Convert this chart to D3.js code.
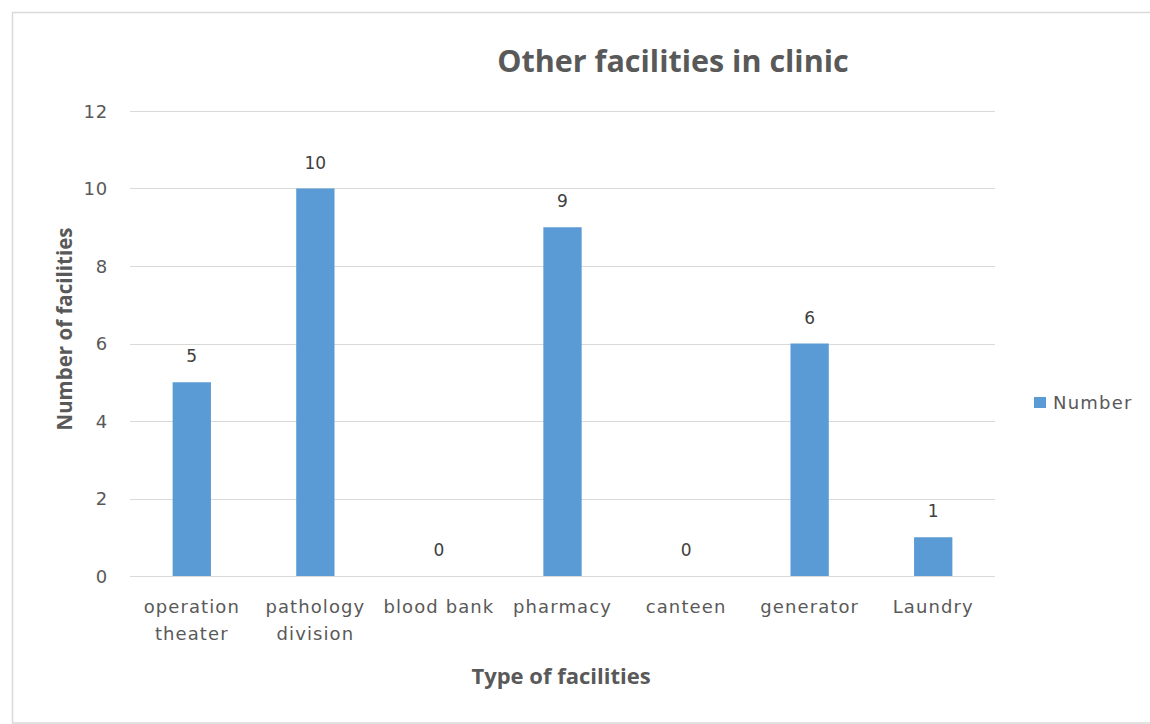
<!DOCTYPE html>
<html>
<head>
<meta charset="utf-8">
<script src="https://cdn.jsdelivr.net/npm/d3@7"></script>
<style>
  html, body { margin: 0; padding: 0; background: #ffffff; }
  svg { display: block; }
</style>
</head>
<body>
<svg id="chart" width="1150" height="724"></svg>
<script>
// Facility types and how many clinics have each
const categories = ["operation theater", "pathology division", "blood bank", "pharmacy", "canteen", "generator", "Laundry"];
const categoryLines = [["operation", "theater"], ["pathology", "division"], ["blood bank"], ["pharmacy"], ["canteen"], ["generator"], ["Laundry"]];
const counts = [5, 10, 0, 9, 0, 6, 1];
const yTicks = [0, 2, 4, 6, 8, 10, 12];
const seriesName = "Number";
const chartTitle = "Other facilities in clinic";
const xTitle = "Type of facilities";
const yTitle = "Number of facilities";

const W = 1150, H = 724;
const plot = { left: 130, right: 995, top: 111, bottom: 576 };
const textColor = "#595959";
const gridColor = "#D9D9D9";
const barColor = "#5B9BD5";
const labelFont = "'DejaVu Sans', Verdana, sans-serif";
const titleFont = "'Open Sans', 'Noto Sans', sans-serif";

const svg = d3.select("#chart");

svg.append("rect").attr("width", W).attr("height", H).attr("fill", "#ffffff");

// chart frame
svg.append("rect")
  .attr("x", 12.5).attr("y", 12.5)
  .attr("width", W).attr("height", 710.5)
  .attr("fill", "none").attr("stroke", gridColor).attr("stroke-width", 1.5);

const x = d3.scaleBand()
  .domain(categories)
  .range([plot.left, plot.right])
  .paddingInner(0.69)
  .paddingOuter(0.345);

const y = d3.scaleLinear()
  .domain([0, 12])
  .range([plot.bottom, plot.top]);

// horizontal gridlines
svg.append("g")
  .selectAll("line")
  .data(yTicks)
  .join("line")
  .attr("x1", plot.left).attr("x2", plot.right)
  .attr("y1", d => Math.round(y(d)) + 0.5).attr("y2", d => Math.round(y(d)) + 0.5)
  .attr("stroke", gridColor).attr("stroke-width", 1.2);

// y axis tick labels
const yAxis = d3.axisLeft(y).tickValues(yTicks).tickSize(0).tickPadding(0);
const yAxisG = svg.append("g")
  .attr("transform", `translate(108,0)`)
  .call(yAxis);
yAxisG.select(".domain").remove();
yAxisG.selectAll("text")
  .attr("fill", textColor)
  .attr("font-family", labelFont)
  .attr("font-size", 18)
  .attr("letter-spacing", 0.8)
  .attr("dy", "0.35em");

// bars
svg.append("g")
  .selectAll("rect")
  .data(counts)
  .join("rect")
  .attr("x", (d, i) => x(categories[i]))
  .attr("width", x.bandwidth())
  .attr("y", d => y(d))
  .attr("height", d => y(0) - y(d))
  .attr("fill", barColor);

// value labels
svg.append("g")
  .selectAll("text")
  .data(counts)
  .join("text")
  .attr("x", (d, i) => x(categories[i]) + x.bandwidth() / 2)
  .attr("y", d => y(d) - 20)
  .attr("text-anchor", "middle")
  .attr("fill", "#404040")
  .attr("font-family", labelFont)
  .attr("font-size", 17)
  .text(d => d);

// x axis category labels (wrapped)
const xAxis = d3.axisBottom(x).tickSize(0).tickPadding(0).tickFormat(() => "");
const xAxisG = svg.append("g")
  .attr("transform", `translate(0,${plot.bottom})`)
  .call(xAxis);
xAxisG.select(".domain").remove();
xAxisG.selectAll(".tick").each(function (d, i) {
  const t = d3.select(this).select("text")
    .attr("fill", textColor)
    .attr("font-family", labelFont)
    .attr("font-size", 18)
    .attr("letter-spacing", 1.1)
    .attr("text-anchor", "middle")
    .attr("y", 0)
    .attr("dy", null);
  categoryLines[i].forEach((line, k) => {
    t.append("tspan")
      .attr("x", 0)
      .attr("y", 37 + k * 27)
      .text(line);
  });
});

// title
svg.append("text")
  .attr("x", 673).attr("y", 72)
  .attr("text-anchor", "middle")
  .attr("fill", textColor)
  .attr("font-family", titleFont)
  .attr("font-weight", "bold")
  .attr("font-size", 30.5)
  .text(chartTitle);

// axis titles
svg.append("text")
  .attr("x", 561).attr("y", 684)
  .attr("text-anchor", "middle")
  .attr("fill", textColor)
  .attr("font-family", titleFont)
  .attr("font-weight", "bold")
  .attr("font-size", 22)
  .text(xTitle);

svg.append("text")
  .attr("transform", "translate(72,329) rotate(-90)")
  .attr("text-anchor", "middle")
  .attr("fill", textColor)
  .attr("font-family", titleFont)
  .attr("font-weight", "bold")
  .attr("font-size", 20.5)
  .text(yTitle);

// legend
const legend = svg.append("g").attr("transform", "translate(1034,397)");
legend.append("rect").attr("width", 12).attr("height", 11).attr("fill", barColor);
legend.append("text")
  .attr("x", 19).attr("y", 5.5).attr("dy", "0.35em")
  .attr("fill", textColor)
  .attr("font-family", labelFont)
  .attr("font-size", 18)
  .attr("letter-spacing", 1.2)
  .text(seriesName);
</script>
</body>
</html>
